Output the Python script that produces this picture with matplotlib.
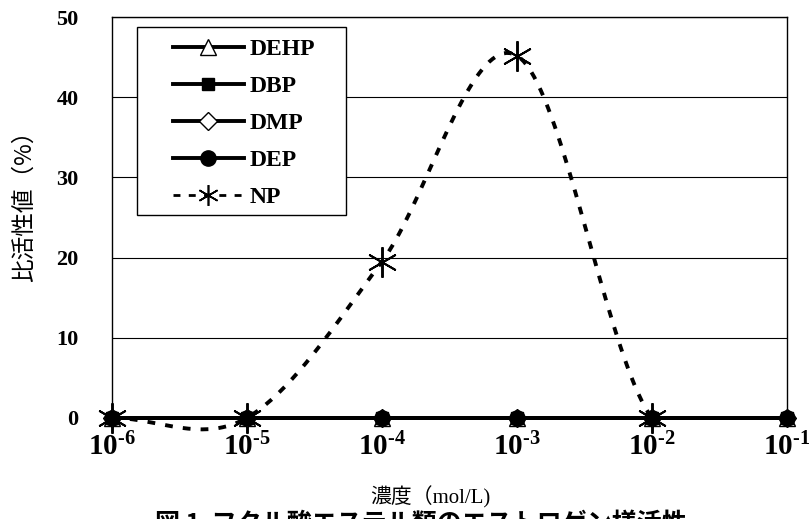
import matplotlib
matplotlib.use('Agg')
import matplotlib.pyplot as plt
from matplotlib.patches import Rectangle
import numpy as np

# データ
conc = [1e-6, 1e-5, 1e-4, 1e-3, 1e-2, 1e-1]
conc_labels = [r'$\mathbf{10^{\text{-}6}}$', r'$\mathbf{10^{\text{-}5}}$',
               r'$\mathbf{10^{\text{-}4}}$', r'$\mathbf{10^{\text{-}3}}$',
               r'$\mathbf{10^{\text{-}2}}$', r'$\mathbf{10^{\text{-}1}}$']
dehp = [0, 0, 0, 0, 0, 0]
dbp = [0, 0, 0, 0, 0, 0]
dmp = [0, 0, 0, 0, 0, 0]
dep = [0, 0, 0, 0, 0, 0]
np_conc = [1e-6, 1e-5, 1e-4, 1e-3, 1e-2]
np_val = [0, 0, 19.5, 45.2, 0]

plt.rcParams['font.family'] = ['Liberation Serif', 'Noto Sans CJK JP']
plt.rcParams['font.weight'] = 'bold'
plt.rcParams['mathtext.fontset'] = 'custom'
plt.rcParams['mathtext.rm'] = 'Liberation Serif:bold'
plt.rcParams['mathtext.bf'] = 'Liberation Serif:bold'


def smooth(xs, ys, n=40):
    # Excel風のなめらかな線 (Catmull-Rom, log x)
    lx = np.log10(xs)
    ys = np.asarray(ys, dtype=float)
    k = len(ys)
    m = np.zeros(k)
    for i in range(k):
        a = max(i - 1, 0)
        b = min(i + 1, k - 1)
        m[i] = (ys[b] - ys[a]) / 2.0
    ox, oy = [], []
    for i in range(k - 1):
        t = np.linspace(0, 1, n)
        h00 = 2 * t**3 - 3 * t**2 + 1
        h10 = t**3 - 2 * t**2 + t
        h01 = -2 * t**3 + 3 * t**2
        h11 = t**3 - t**2
        oy.extend(h00 * ys[i] + h10 * m[i] + h01 * ys[i + 1] + h11 * m[i + 1])
        ox.extend(lx[i] + t * (lx[i + 1] - lx[i]))
    return 10 ** np.array(ox), np.array(oy)


fig = plt.figure(figsize=(8.09, 5.19), dpi=100)
ax = fig.add_axes([0.1385, 0.195, 0.834, 0.772])

sx, sy = smooth(np_conc, np_val)
ax.plot(sx, sy, color='black', lw=2.8, ls=(0, (2.0, 2.6)), clip_on=False, zorder=3)
ax.plot(np_conc, np_val, ls='none', marker=(6, 2, 0), ms=22, mew=1.4,
        color='black', clip_on=False, zorder=4)
ax.plot([], [], color='black', lw=2.0, ls=(0, (2.5, 3)), marker=(6, 2, 0),
        ms=15, mew=1.2, label='NP')

ax.plot(conc, dehp, color='black', lw=2.8, marker='^', ms=11, mfc='white',
        mec='black', clip_on=False, zorder=5, label='DEHP')
ax.plot(conc, dbp, color='black', lw=2.8, marker='s', ms=8, mfc='black',
        mec='black', clip_on=False, zorder=5, label='DBP')
ax.plot(conc, dmp, color='black', lw=2.8, marker='D', ms=9, mfc='white',
        mec='black', clip_on=False, zorder=5, label='DMP')
ax.plot(conc, dep, color='black', lw=2.8, marker='o', ms=11, mfc='black',
        mec='black', clip_on=False, zorder=5, label='DEP')

ax.set_xscale('log')
ax.set_xlim(1e-6, 1e-1)
ax.set_ylim(0, 50)
ax.set_yticks([0, 10, 20, 30, 40, 50])
ax.set_xticks(conc)
ax.set_xticklabels(conc_labels)
ax.minorticks_off()
ax.tick_params(axis='both', length=0)
ax.tick_params(axis='y', pad=24, labelsize=16)
ax.tick_params(axis='x', pad=11, labelsize=21)
for lab in ax.get_yticklabels():
    lab.set_fontweight('bold')
ax.yaxis.grid(True, color='black', lw=0.8)
ax.set_axisbelow(True)
for s in ax.spines.values():
    s.set_linewidth(1.0)

# 凡例の枠
ax.add_patch(Rectangle((0.037, 0.506), 0.310, 0.469, transform=ax.transAxes,
                       facecolor='white', edgecolor='black', lw=1.0, zorder=9))
h, l = ax.get_legend_handles_labels()
order = [1, 2, 3, 4, 0]
leg = ax.legend([h[i] for i in order], [l[i] for i in order],
                loc='upper left', bbox_to_anchor=(0.090, 0.947),
                frameon=False, borderpad=0, borderaxespad=0,
                handlelength=3.0, handletextpad=0.25, labelspacing=0.66,
                prop={'family': 'Liberation Serif', 'weight': 'bold', 'size': 17})
leg.set_zorder(10)

fig.text(24 / 809, 1 - 200 / 519, '比活性値（%）', rotation=90, ha='center',
         va='center', fontsize=17, fontweight='normal', family=['Noto Sans CJK JP'])
fig.text(430 / 809, 1 - 497 / 519, '濃度（mol/L)', ha='center', va='center',
         fontsize=15, fontweight='normal', family=['Liberation Serif', 'Noto Sans CJK JP'])
fig.text(0.52, 1 - 512 / 519, '図 1  フタル酸エステル類のエストロゲン様活性', ha='center',
         va='top', fontsize=18, fontweight='bold', family=['Noto Sans CJK JP'])

fig.savefig('out.png', dpi=100)
plt.close(fig)
